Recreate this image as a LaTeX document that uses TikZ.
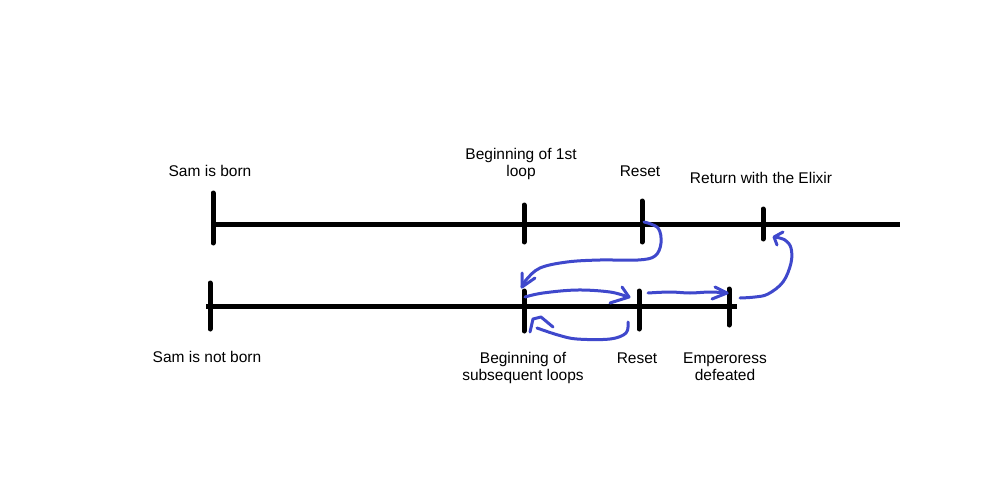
\documentclass[tikz,border=0pt]{standalone}
\usepackage{fontspec}
\setmainfont{Liberation Sans}
\begin{document}
\begin{tikzpicture}[x=1pt,y=-1pt,
  timeline/.style={line width=5pt,black},
  tick/.style={line width=5pt,black,line cap=round},
  lbl/.style={font=\fontsize{15.5}{17}\selectfont,align=center,inner sep=0pt},
  sketch/.style={line width=3pt,draw={rgb,255:red,63;green,72;blue,204},line cap=round,line join=round}]
\useasboundingbox[fill=white] (0,0) rectangle (1000,500);
% named points on the timelines
\coordinate (tEnd) at (900,224); \coordinate (bEnd) at (737,306);
\coordinate (tStart) at (211,224); \coordinate (bStart) at (206,306);
% timelines
\draw[timeline] (tStart) -- (tEnd);
\draw[timeline] (bStart) -- (bEnd);
% ticks
\draw[tick] (213,193) -- (213,243);
\draw[tick] (524,205) -- (524,242);
\draw[tick] (642,201) -- (642,242);
\draw[tick] (763,209) -- (763,239);
\draw[tick] (210,283) -- (210,329);
\draw[tick] (524,291) -- (524,331);
\draw[tick] (639,291) -- (639,329);
\draw[tick] (729,289) -- (729,325);
% labels
\node[lbl] (l1) at (210,171) {Sam is born};
\node[lbl] (l2) at (521,163.5) {Beginning of 1st\\loop};
\node[lbl] (l3) at (640,171) {Reset};
\node[lbl] (l4) at (761,178) {Return with the Elixir};
\node[lbl] (l5) at (207,357) {Sam is not born};
\node[lbl] (l6) at (523,368) {Beginning of\\subsequent loops};
\node[lbl] (l7) at (637,358) {Reset};
\node[lbl] (l8) at (725,366.5) {Emperoress\\defeated};
% blue arrows
\draw[sketch] plot[smooth,tension=0.6] coordinates {(644,222) (658,228) (661,243) (655,256) (638,260) (600,260) (567,262) (540,268) (526,280) (522,287)};
\draw[sketch] (522,273) -- (522,287) -- (535,278);
\draw[sketch] plot[smooth,tension=0.6] coordinates {(525,297) (543,293) (577,290) (610,292) (628,297)};
\draw[sketch] (622,287) -- (629,297) -- (610,303);
\draw[sketch] plot[smooth,tension=0.6] coordinates {(648,293) (670,292) (690,293) (710,292) (727,293)};
\draw[sketch] (715,287) -- (727,293) -- (712,299);
\draw[sketch] plot[smooth,tension=0.6] coordinates {(740,298) (755,297) (768,294) (783,282) (791,263) (791,248) (785,240) (775,237)};
\draw[sketch] (783,232) -- (774,237) -- (777,245);
\draw[sketch] plot[smooth,tension=0.6] coordinates {(628,322) (626,333) (610,339) (577,339) (558,335) (537,328)};
\draw[sketch] (530,332) -- (533,319) -- (541,317) -- (553,327);
\end{tikzpicture}
\end{document}
